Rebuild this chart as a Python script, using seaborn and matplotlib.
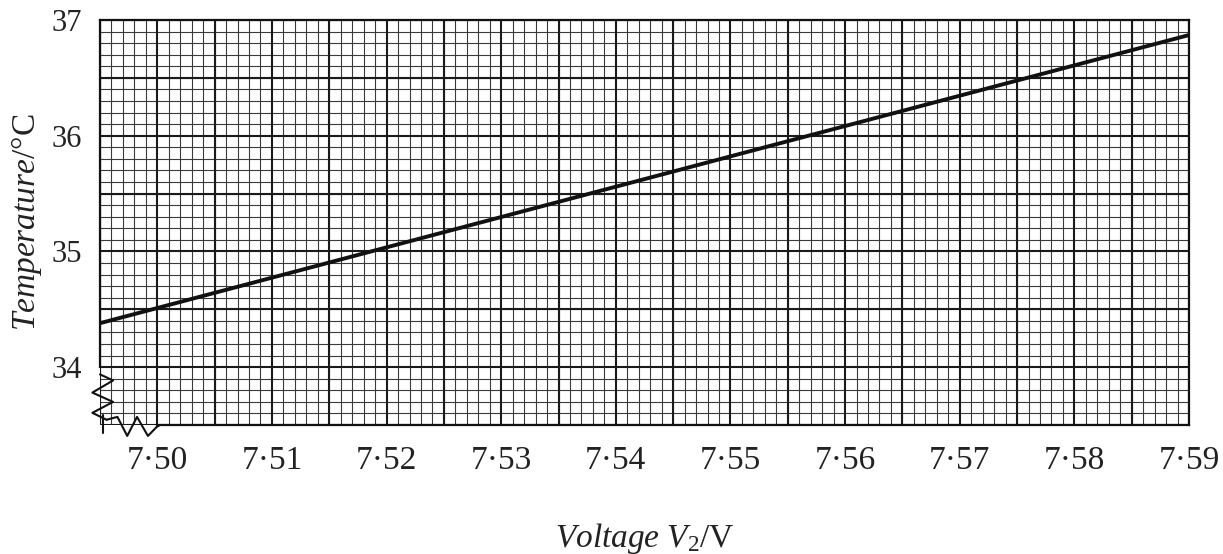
import numpy as np
import pandas as pd
import matplotlib
matplotlib.use("Agg")
import matplotlib.pyplot as plt
from matplotlib.ticker import MultipleLocator, FixedLocator, FuncFormatter
import seaborn as sns

# line (end points of the straight line)
voltage = [7.495, 7.59]
temperature = [34.38, 36.87]

x_ticks = [7.50, 7.51, 7.52, 7.53, 7.54, 7.55, 7.56, 7.57, 7.58, 7.59]
y_ticks = [34, 35, 36, 37]
x_lim = (7.495, 7.59)
y_lim = (33.5, 37.0)

sns.set_style("white")
plt.rcParams["font.family"] = ["Liberation Serif", "DejaVu Serif"]
plt.rcParams["mathtext.fontset"] = "custom"
plt.rcParams["mathtext.rm"] = "Liberation Serif"
plt.rcParams["mathtext.it"] = "Liberation Serif:italic"

df = pd.DataFrame({"V": voltage, "T": temperature})

fig = plt.figure(figsize=(12.23, 5.54), dpi=100)
ax = fig.add_axes([100 / 1223, 1 - 425 / 554, 1089 / 1223, 405 / 554])

ax.set_xlim(*x_lim)
ax.set_ylim(*y_lim)

# graph paper: fine lines every 0.001 V / 0.1 C, bold every 0.005 V / 0.5 C
ax.xaxis.set_minor_locator(MultipleLocator(0.001))
ax.yaxis.set_minor_locator(MultipleLocator(0.1))
ax.grid(which="minor", color="#3a3a3a", lw=0.8, zorder=1)
ax.grid(which="major", visible=False)
ax.vlines(np.arange(7.495, 7.5901, 0.005), *y_lim, color="#1a1a1a", lw=1.5, zorder=1.5)
ax.hlines(np.arange(33.5, 37.01, 0.5), *x_lim, color="#1a1a1a", lw=1.5, zorder=1.5)

sns.lineplot(data=df, x="V", y="T", color="#111111", lw=2.8, ax=ax, zorder=3)

ax.xaxis.set_major_locator(FixedLocator(x_ticks))
ax.yaxis.set_major_locator(FixedLocator(y_ticks))
ax.xaxis.set_major_formatter(FuncFormatter(lambda v, p: f"{v:.2f}".replace(".", "\u00b7")))
ax.yaxis.set_major_formatter(FuncFormatter(lambda v, p: f"{v:.0f}"))
ax.tick_params(axis="both", which="minor", length=0)
ax.tick_params(axis="x", which="major", length=9, width=1.5, direction="out",
               labelsize=24, pad=6, color="#111111", labelcolor="#222222")
ax.tick_params(axis="y", which="major", length=11, width=1.5, direction="out",
               labelsize=22, pad=2, color="#111111", labelcolor="#222222")

for s in ax.spines.values():
    s.set_color("#111111")
    s.set_linewidth(1.6)
    s.set_zorder(4)
ax.spines["left"].set_bounds(34, 37)
ax.spines["bottom"].set_bounds(7.50, 7.59)

# axis break zigzags (axes fraction)
zig_left_x = [0.0, 0.012, -0.007, 0.012, -0.007, 0.006]
zig_left_y = [0.125, 0.11, 0.08, 0.057, 0.03, 0.013]
ax.plot(zig_left_x, zig_left_y, transform=ax.transAxes, color="#111111", lw=1.5, clip_on=False, zorder=4)
zig_bot_x = [0.006, 0.016, 0.025, 0.034, 0.044, 0.052, 0.055]
zig_bot_y = [0.013, 0.02, -0.027, 0.02, -0.027, -0.005, 0.0]
ax.plot(zig_bot_x, zig_bot_y, transform=ax.transAxes, color="#111111", lw=1.5, clip_on=False, zorder=4)
ax.plot([0.003, 0.003], [0.025, -0.02], transform=ax.transAxes, color="#111111", lw=1.5, clip_on=False, zorder=4)

ax.set_xlabel(r"$Voltage\ V_{\mathrm{2}}\mathrm{/V}$", fontsize=24, labelpad=32, color="#222222")
ax.set_ylabel(r"$Temperature\mathrm{/°C}$", fontsize=24, labelpad=5, color="#222222")

fig.savefig("out.png", dpi=100)
